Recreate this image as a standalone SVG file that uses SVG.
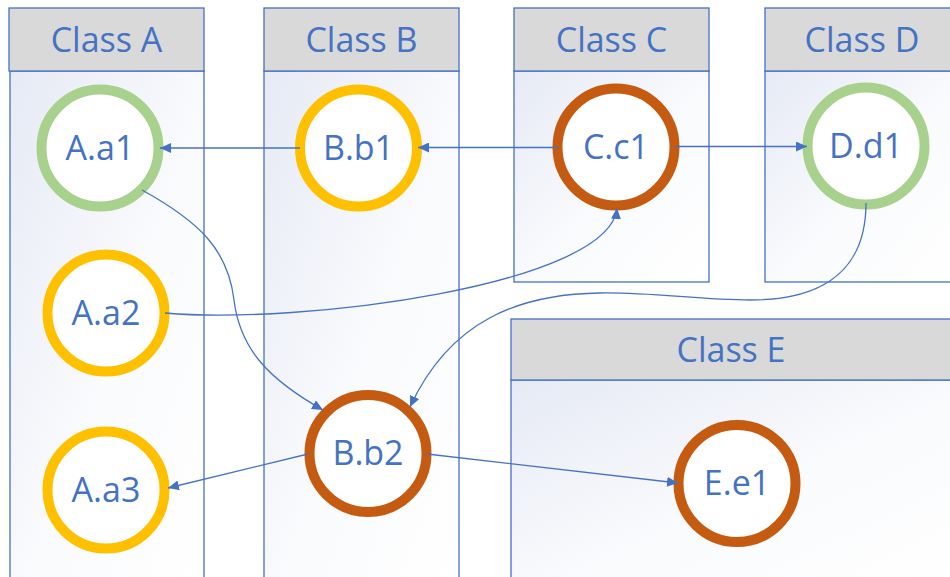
<svg xmlns="http://www.w3.org/2000/svg" width="950" height="577" viewBox="0 0 950 577">
  <defs>
    <linearGradient id="laneFill" x1="0" y1="0" x2="1" y2="1">
      <stop offset="0" stop-color="#e6eaf5"/>
      <stop offset="0.55" stop-color="#fafbfd"/>
      <stop offset="1" stop-color="#ffffff"/>
    </linearGradient>
    <marker id="arrow" markerUnits="userSpaceOnUse" markerWidth="11" markerHeight="10" refX="11" refY="5" orient="auto" viewBox="0 0 11 10">
      <path d="M0,0 L11,5 L0,10 z" fill="#4472c4"/>
    </marker>
  </defs>
  <style>
    .body { fill: url(#laneFill); stroke: #4472c4; stroke-width: 1.3; }
    .head { fill: #d9d9d9; stroke: #4472c4; stroke-width: 1.3; }
    .title { font-family: "Open Sans", "Liberation Sans", sans-serif; font-size: 34px; fill: #4472c4; text-anchor: middle; }
    .node circle { fill: #ffffff; stroke-width: 10; }
    .node text { font-family: "Open Sans", "Liberation Sans", sans-serif; font-size: 34px; fill: #4472c4; text-anchor: middle; }
    .green circle { stroke: #a9d18e; }
    .yellow circle { stroke: #ffc000; }
    .orange circle { stroke: #c55a11; }
    .edge { fill: none; stroke: #4472c4; stroke-width: 1.3; marker-end: url(#arrow); }
  </style>

  <rect width="950" height="577" fill="#ffffff"/>

  <!-- swimlanes -->
  <g id="lanes">
    <g id="laneA">
      <rect class="body" x="10" y="71" width="194" height="520"/>
      <rect class="head" x="9" y="8" width="195" height="63"/>
      <text class="title" x="106.5" y="52">Class A</text>
    </g>
    <g id="laneB">
      <rect class="body" x="264" y="71" width="195" height="520"/>
      <rect class="head" x="264" y="8" width="195" height="63"/>
      <text class="title" x="361.5" y="52">Class B</text>
    </g>
    <g id="laneC">
      <rect class="body" x="514" y="71" width="195" height="211"/>
      <rect class="head" x="514" y="8" width="195" height="63"/>
      <text class="title" x="611.5" y="52">Class C</text>
    </g>
    <g id="laneD">
      <rect class="body" x="765" y="71" width="195" height="211"/>
      <rect class="head" x="765" y="8" width="195" height="63"/>
      <text class="title" x="862" y="52">Class D</text>
    </g>
    <g id="laneE">
      <rect class="body" x="511" y="380" width="450" height="210"/>
      <rect class="head" x="511" y="319" width="450" height="61"/>
      <text class="title" x="731" y="362">Class E</text>
    </g>
  </g>

  <!-- nodes -->
  <g id="nodes">
    <g id="A.a1" class="node green">
      <circle cx="100" cy="148" r="58.5"/>
      <text x="100" y="159.5">A.a1</text>
    </g>
    <g id="A.a2" class="node yellow">
      <circle cx="106" cy="313" r="58.5"/>
      <text x="106" y="324.5">A.a2</text>
    </g>
    <g id="A.a3" class="node yellow">
      <circle cx="106" cy="490" r="58.5"/>
      <text x="106" y="501.5">A.a3</text>
    </g>
    <g id="B.b1" class="node yellow">
      <circle cx="358.5" cy="148" r="58.5"/>
      <text x="358.5" y="159.5">B.b1</text>
    </g>
    <g id="B.b2" class="node orange">
      <circle cx="368" cy="453.5" r="58.5"/>
      <text x="368" y="465">B.b2</text>
    </g>
    <g id="C.c1" class="node orange">
      <circle cx="616" cy="147" r="58.5"/>
      <text x="616" y="158.5">C.c1</text>
    </g>
    <g id="D.d1" class="node green">
      <circle cx="866" cy="146" r="58.5"/>
      <text x="866" y="157.5">D.d1</text>
    </g>
    <g id="E.e1" class="node orange">
      <circle cx="737" cy="483.5" r="58.5"/>
      <text x="737" y="495">E.e1</text>
    </g>
  </g>

  <!-- connectors -->
  <g id="connectors">
    <path class="edge" d="M300,148 L160,148"/>
    <path class="edge" d="M558,147.5 L418,147.5"/>
    <path class="edge" d="M675,146.5 L807,146.5"/>
    <path class="edge" d="M142,190 C200,222 228,250 234,300 C240,350 270,380 323,410"/>
    <path class="edge" d="M165,313 C300,325 610,285 617,208"/>
    <path class="edge" d="M866,203 C866,280 810,300 750,300 C700,300 650,292 600,293 C520,294 450,320 410,407"/>
    <path class="edge" d="M308,454 L168,488"/>
    <path class="edge" d="M427,454 L678,483"/>
  </g>
</svg>
